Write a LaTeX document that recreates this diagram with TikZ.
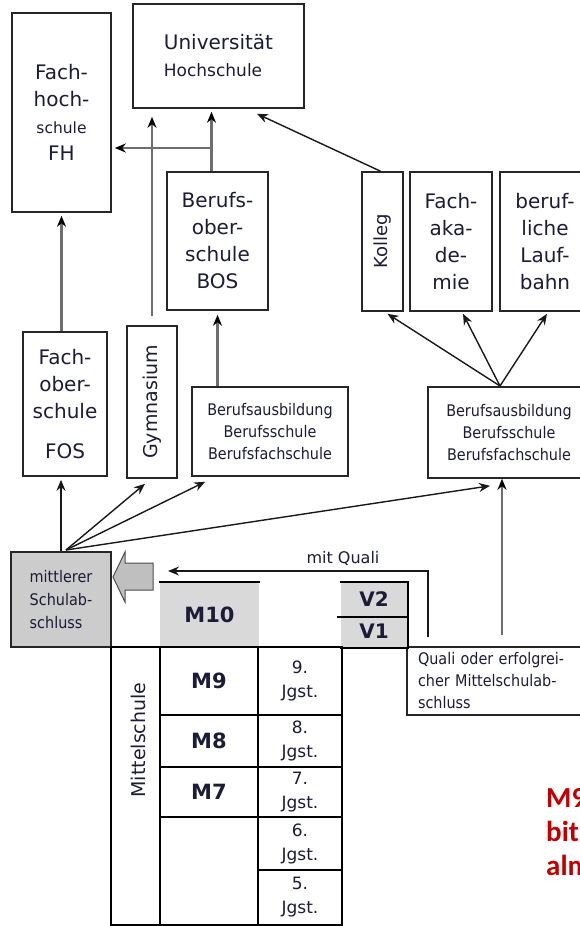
\documentclass[tikz,border=0pt]{standalone}
\usepackage{fontspec}
\setmainfont{DejaVu Sans}
\newfontfamily\narrowfont{DejaVu Sans}[FakeStretch=0.9]
\newfontfamily\notefont{Carlito}
\usetikzlibrary{arrows.meta}

\definecolor{textcol}{HTML}{1C1C38}
\definecolor{linegrey}{HTML}{6E6E6E}
\definecolor{cellgrey}{HTML}{D9D9D9}
\definecolor{boxgrey}{HTML}{CCCCCC}
\definecolor{notered}{HTML}{C00000}
\newcommand{\setfs}[2]{\fontsize{#1}{#2}\selectfont}

\begin{document}
\begin{tikzpicture}[x=1pt,y=-1pt,>={Stealth[length=11pt,width=9pt]},
    school/.style={draw=black!85,line width=1.6pt,fill=white,text=textcol,align=center,inner sep=0pt,font=\setfs{20}{27}},
    training/.style={school,font=\narrowfont\setfs{16}{22}},
    cell/.style={draw=black,line width=1.6pt,inner sep=0pt,text=textcol,font=\bfseries\setfs{21}{24}},
    year/.style={cell,align=center,font=\setfs{17}{24}},
    way/.style={draw=linegrey,line width=2.6pt,-{Stealth[length=11pt,width=9pt,color=black]}},
    link/.style={draw=black!90,line width=1.4pt,->}]
    \useasboundingbox (0,0) rectangle (580,926);
    % schools above
    \node[school,minimum width=99,minimum height=199] (fh) at (61.5,112.5)
      {Fach-\\hoch-\\{\setfs{15.5}{27}schule}\\FH};
    \node[school,align=left,minimum width=171,minimum height=104] (uni) at (218.5,56)
      {Universität\\{\setfs{17}{27}Hochschule}};
    \node[school,minimum width=101,minimum height=138] (bos) at (217.5,241)
      {Berufs-\\ober-\\schule\\BOS};
    \node[school,minimum width=84,minimum height=144] (fos) at (65,404)
      {Fach-\\ober-\\schule\\[13pt]FOS};
    \node[school,font=\setfs{19}{24},minimum width=50,minimum height=152] (gym) at (152,402)
      {\rotatebox{90}{Gymnasium}};
    \node[training,minimum width=156,minimum height=89] (bawl) at (270,431.5)
      {Berufsausbildung\\Berufsschule\\Berufsfachschule};
    \node[school,font=\setfs{18}{24},minimum width=41,minimum height=139] (kol) at (382.5,241.5)
      {\rotatebox{90}{Kolleg}};
    \node[school,minimum width=82,minimum height=139] (fak) at (451,241.5)
      {Fach-\\aka-\\de-\\mie};
    \node[school,minimum width=90,minimum height=139] (lauf) at (545,241.5)
      {beruf-\\liche\\Lauf-\\bahn};
    \node[training,minimum width=162,minimum height=91] (bawr) at (509,432.5)
      {Berufsausbildung\\Berufsschule\\Berufsfachschule};
    \node[training,fill=boxgrey,align=left,font=\narrowfont\setfs{16}{23},minimum width=100,minimum height=95] (msa) at (61,599.5)
      {mittlerer\\Schulab-\\schluss};
    \node[training,align=left,text width=163,minimum width=185,minimum height=68] (quali) at (499.5,681)
      {\makebox[163pt][s]{Quali oder erfolgrei-}\\cher Mittelschulab-\\schluss};

    % Mittelschule table
    \node[cell,draw=none,fill=cellgrey,minimum width=99,minimum height=64] (m10) at (209.5,615) {M10};
    \node[cell,draw=none,fill=cellgrey,font=\bfseries\setfs{20}{24},minimum width=66,minimum height=33] (v2) at (374,599.5) {V2};
    \node[cell,draw=none,fill=cellgrey,font=\bfseries\setfs{20}{24},minimum width=66,minimum height=31] (v1) at (374,631.5) {V1};
    \draw[line width=1.6pt] (m10.north west) -- (m10.north east);
    \draw[line width=1.6pt] (v2.north west) -- (v2.north east) -- (v1.south east) -- (v1.south west);
    \draw[line width=1.6pt] ([xshift=-3pt]v2.south west) -- (v2.south east);
    \node[cell,minimum width=98,minimum height=68] (m9) at (209,681) {M9};
    \node[year,minimum width=84,minimum height=68] (j9) at (300,681) {9.\\Jgst.};
    \node[cell,minimum width=98,minimum height=52] (m8) at (209,741) {M8};
    \node[year,minimum width=84,minimum height=52] (j8) at (300,741) {8.\\Jgst.};
    \node[cell,minimum width=98,minimum height=50] (m7) at (209,792) {M7};
    \node[year,minimum width=84,minimum height=50] (j7) at (300,792) {7.\\Jgst.};
    \node[cell,minimum width=98,minimum height=108] (mrest) at (209,871) {};
    \node[year,minimum width=84,minimum height=53] (j6) at (300,843.5) {6.\\Jgst.};
    \node[year,minimum width=84,minimum height=55] (j5) at (300,897.5) {5.\\Jgst.};
    \node[cell,minimum width=49,minimum height=278] (ms) at (135.5,786) {};
    \node[text=textcol,font=\setfs{19}{24},rotate=90] (mstext) at (138,740) {Mittelschule};

    % grey block arrow into the mittlerer Schulabschluss
    \draw[draw=black!70,fill=black!25,line width=1pt] (153,563) -- (125,563) -- (125,552)
      -- (113,577) -- (125,602) -- (125,590) -- (153,590) -- cycle;

    % connectors
    \coordinate (fork) at (66,550);
    \coordinate (bt) at ([xshift=-6pt]bos.north);
    \coordinate (br) at (211,148);
    \coordinate (qs) at (428,637);
    \coordinate (qe) at (168,571);
    \coordinate (qup) at (502,635);
    \coordinate (split) at (500,386);
    \draw[way,shorten >=3pt] (fh.south |- fos.north) -- (fh.south);
    \draw[way,shorten >=8pt] ([yshift=9pt]gym.north) -- (gym.north |- uni.south);
    \draw[way,shorten >=3pt] (bt) -- (bt |- uni.south);
    \draw[way,shorten >=3pt] (br) -- (br -| fh.east);
    \draw[way,shorten >=4pt] (bos.south |- bawl.north) -- (bos.south);
    \draw[way] (qup) -- (qup |- bawr.south);
    \draw[link] (msa.north) -- ([yshift=-3pt]msa.north |- fos.south);
    \draw[link] (fork) -- ([xshift=-7pt,yshift=-5pt]gym.south);
    \draw[link] (fork) -- ([xshift=14pt,yshift=-5pt]bawl.south west);
    \draw[link] (fork) -- ([xshift=-19pt,yshift=-7pt]bawr.south);
    \draw[link] ([xshift=-2pt]kol.north) -- ([xshift=38.5pt,yshift=-5pt]uni.south);
    \draw[link] (split) -- ([xshift=5pt,yshift=-2pt]kol.south);
    \draw[link] (split) -- ([xshift=12pt,yshift=-2pt]fak.south);
    \draw[link] (split) -- ([xshift=2pt,yshift=-2pt]lauf.south);
    \draw[link] (qs) |- (qe);
    \node[text=textcol,font=\setfs{16}{18}] (mq) at (343,558) {mit Quali};

    % note on the right
    \node[anchor=north west,align=left,inner sep=0pt,text=notered,font=\notefont\bfseries\setfs{29}{34}] (note) at (546,788)
      {M9\\bit\\alm};
\end{tikzpicture}
\end{document}
